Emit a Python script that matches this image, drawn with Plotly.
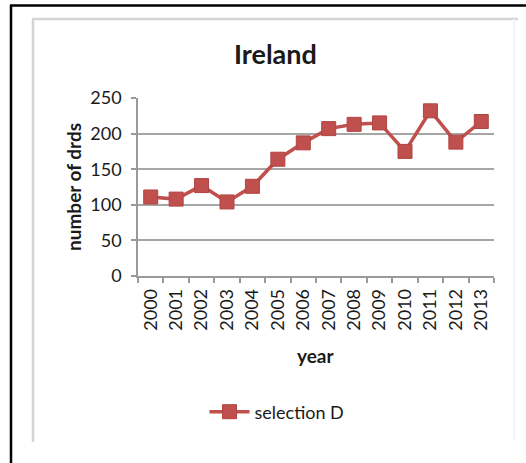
import plotly.graph_objects as go

# Annual counts for Ireland, selection D
years = ["2000", "2001", "2002", "2003", "2004", "2005", "2006",
         "2007", "2008", "2009", "2010", "2011", "2012", "2013"]
selection_d = [111, 108, 127, 104, 126, 164, 187, 207, 213, 215, 175, 232, 188, 217]
y_ticks = [0, 50, 100, 150, 200, 250]

W, H = 526, 463
RED = "#C0504D"
FONT = "Lato"
TXT = "#1a1a1a"


def px(x):
    return x / W


def py(y):
    return 1 - y / H


fig = go.Figure()
fig.add_trace(go.Scatter(
    x=years, y=selection_d, mode="lines+markers", name="selection D",
    line=dict(color=RED, width=3.5),
    marker=dict(symbol="square", size=14, color=RED,
                line=dict(color="#B04441", width=1)),
))

shapes = [
    # outer frame (left and top edges)
    dict(type="line", xref="paper", yref="paper", x0=px(11), x1=px(11), y0=py(5), y1=py(463),
         line=dict(color="#000000", width=2.5)),
    dict(type="line", xref="paper", yref="paper", x0=px(10), x1=px(526), y0=py(5.5), y1=py(5.5),
         line=dict(color="#000000", width=2.5)),
    # chart area border
    dict(type="line", xref="paper", yref="paper", x0=px(33), x1=px(33), y0=py(19), y1=py(442),
         line=dict(color="#d4d4d4", width=2.5)),
    dict(type="line", xref="paper", yref="paper", x0=px(32), x1=px(518), y0=py(19), y1=py(19),
         line=dict(color="#d4d4d4", width=2.5)),
    dict(type="line", xref="paper", yref="paper", x0=px(514), x1=px(514), y0=py(19), y1=py(440),
         line=dict(color="#f3f3f3", width=2)),
]

fig.update_layout(
    template="none",
    width=W, height=H,
    margin=dict(l=0, r=0, t=0, b=0, pad=0, autoexpand=False),
    paper_bgcolor="white", plot_bgcolor="white",
    font=dict(family=FONT, color=TXT),
    shapes=shapes,
    showlegend=True,
    legend=dict(x=px(277), y=py(412), xanchor="center", yanchor="middle",
                orientation="h", font=dict(size=18, family=FONT, color=TXT),
                bgcolor="rgba(0,0,0,0)", itemwidth=40),
    annotations=[
        dict(text="<b>Ireland</b>", xref="paper", yref="paper", x=px(275), y=py(53),
             xanchor="center", yanchor="middle", showarrow=False,
             font=dict(size=27, family=FONT, color=TXT)),
        dict(text="<b>number of drds</b>", xref="paper", yref="paper", x=px(73), y=py(187),
             xanchor="center", yanchor="middle", showarrow=False, textangle=-90,
             font=dict(size=19, family=FONT, color=TXT)),
        dict(text="<b>year</b>", xref="paper", yref="paper", x=px(316), y=py(355),
             xanchor="center", yanchor="middle", showarrow=False,
             font=dict(size=19, family=FONT, color=TXT)),
    ],
    xaxis=dict(
        type="category", domain=[px(138), px(494)], automargin=False,
        tickson="boundaries", ticks="outside", ticklen=5, tickcolor="#9a9a9a", tickwidth=1.5,
        showline=True, linecolor="#9a9a9a", linewidth=1.5,
        showgrid=False, zeroline=False, tickangle=-90, ticklabelstandoff=4,
        tickfont=dict(size=18, family=FONT, color=TXT),
        range=[-0.5, 13.5], fixedrange=True,
    ),
    yaxis=dict(
        domain=[py(276), py(98)], range=[0, 250], tickvals=y_ticks, automargin=False,
        ticks="outside", ticklen=5, tickcolor="#9a9a9a", tickwidth=1.5,
        showline=True, linecolor="#9a9a9a", linewidth=1.5,
        showgrid=True, gridcolor="#a6a6a6", gridwidth=1.5,
        zeroline=False, ticklabelstandoff=6,
        tickfont=dict(size=18, family=FONT, color=TXT),
        fixedrange=True,
    ),
)

fig.write_html("out.html")
